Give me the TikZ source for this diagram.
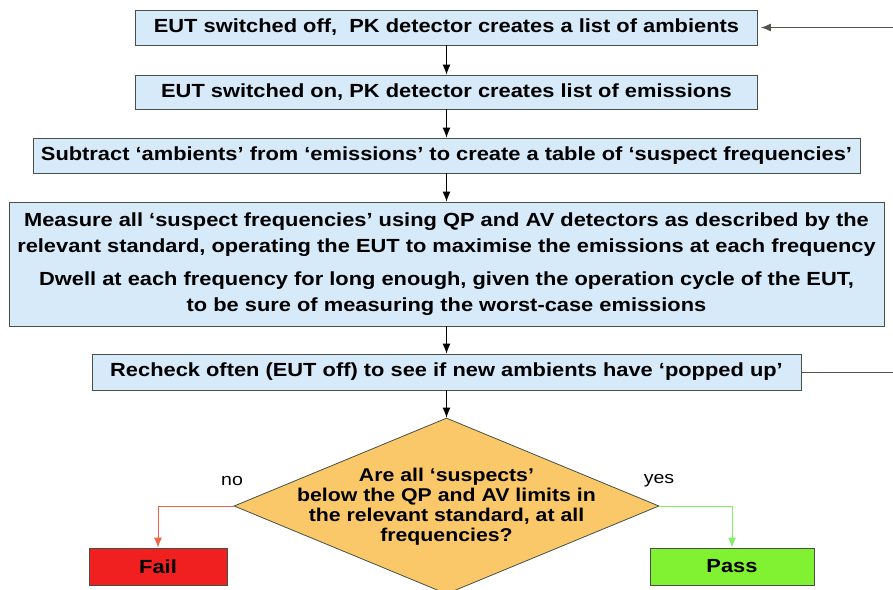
\documentclass[tikz,border=0pt]{standalone}
\usepackage{fontspec}
\setmainfont{Liberation Sans}[FakeStretch=1.15]
\usetikzlibrary{shapes.geometric,arrows.meta}
\definecolor{boxblue}{RGB}{214,234,250}
\definecolor{boxline}{RGB}{70,80,70}
\definecolor{diamondfill}{RGB}{250,200,105}
\definecolor{failred}{RGB}{240,32,32}
\definecolor{passgreen}{RGB}{128,242,50}
\definecolor{noline}{RGB}{240,100,70}
\definecolor{yesline}{RGB}{130,240,100}
\definecolor{backline}{RGB}{80,85,75}
\begin{document}
\begin{tikzpicture}[x=1pt,y=-1pt,
  stepbox/.style={draw=boxline, line width=0.8pt, fill=boxblue, inner sep=0pt, align=center,
    font=\bfseries\fontsize{19}{26}\selectfont},
  decision/.style={diamond, draw=boxline, line width=0.8pt, fill=diamondfill, inner sep=0pt,
    minimum width=425pt, minimum height=176pt},
  result/.style={draw=boxline, line width=0.8pt, inner sep=0pt, minimum height=37pt,
    font=\bfseries\fontsize{19}{23}\selectfont},
  flow/.style={line width=1pt, -{Latex[length=10pt,width=8pt]}},
  answer/.style={font=\fontsize{17}{20}\selectfont}]
\useasboundingbox (0,0) rectangle (893,589);
% process steps
\node[stepbox, minimum width=622pt, minimum height=35pt] (ambients) at (446.5,27.5)
  {EUT switched off,\ \ PK detector creates a list of ambients};
\node[stepbox, minimum width=622pt, minimum height=34pt] (emissions) at (446.5,92)
  {EUT switched on, PK detector creates list of emissions};
\node[stepbox, minimum width=827pt, minimum height=35pt] (subtract) at (446.5,155.5)
  {Subtract ‘ambients’ from ‘emissions’ to create a table of ‘suspect frequencies’};
\node[stepbox, minimum width=875pt, minimum height=124pt] (measure) at (446.5,264)
  {Measure all ‘suspect frequencies’ using QP and AV detectors as described by the\\
   relevant standard, operating the EUT to maximise the emissions at each frequency\\[7pt]
   Dwell at each frequency for long enough, given the operation cycle of the EUT,\\
   to be sure of measuring the worst-case emissions};
\node[stepbox, minimum width=709pt, minimum height=36pt] (recheck) at (446.5,372)
  {Recheck often (EUT off) to see if new ambients have ‘popped up’};
% decision
\node[decision] (check) at (446.5,506) {};
\node[align=center, font=\bfseries\fontsize{18.5}{20}\selectfont] (question) at (446.5,507)
  {Are all ‘suspects’\\below the QP and AV limits in\\the relevant standard, at all\\frequencies?};
\node[result, fill=failred, minimum width=138pt] (fail) at (158,566.5) {Fail};
\node[result, fill=passgreen, minimum width=164pt] (pass) at (732,566.5) {Pass};
\node[answer] (no) at (232,481) {no};
\node[answer] (yes) at (659,481) {yes};
% connectors
\draw[flow] (ambients) -- (emissions);
\draw[flow] (emissions) -- (subtract);
\draw[flow] (subtract) -- (measure);
\draw[flow] (measure) -- (recheck);
\draw[flow] (recheck) -- (check);
\draw[flow, noline] (check.west) -| (fail.north);
\draw[flow, yesline] (check.east) -| (pass.north);
\draw[flow, backline, shorten >=3pt] (recheck.east) -- ++(92,0) |- (ambients.east);
\end{tikzpicture}
\end{document}
